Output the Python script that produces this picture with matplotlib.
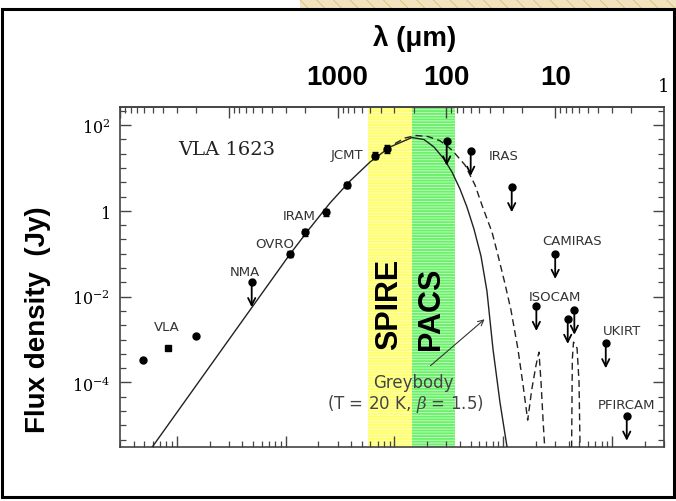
import numpy as np
import matplotlib.pyplot as plt
from matplotlib.patches import Rectangle
from matplotlib.ticker import FixedLocator, NullFormatter, LogLocator

plt.rcParams['mathtext.fontset'] = 'dejavuserif'
plt.rcParams['hatch.linewidth'] = 0.6

C_UM = 3e14     # speed of light (micron / s)

#### Detections with error bars (wavelength in micron, flux in Jy) ####
det_lam  = [2738, 1993, 1278, 815, 453, 349]
det_flux = [0.098, 0.315, 0.92, 3.99, 19.2, 27.6]
det_err  = [0.15, 0.2, 0.2, 0.2, 0.2, 0.25]      # fractional

#### VLA centimetre points ####
vla_lam  = [61850, 36450, 20030]
vla_flux = [3.4e-4, 6.2e-4, 1.22e-3]
vla_mark = ["o", "s", "o"]

#### Upper limits ####
ul_lam  = [6160, 99.4, 59.8, 25.1, 10.0, 14.9, 7.67, 6.67, 3.43, 2.2]
ul_flux = [0.0215, 43, 24.8, 3.52, 0.098, 6.0e-3, 3.0e-3, 4.9e-3, 8.1e-4, 1.66e-5]

#### Greybody model (solid) ####
grey_lam  = [65500, 18400, 6385, 2738, 1794, 1175, 769, 504, 330, 207, 160.6, 130,
             105.2, 88.8, 75.0, 64.7, 55.8, 48.1, 42.4, 37.3, 32.2, 27.7, 26.0]
grey_flux = [1.24e-6, 1.13e-4, 4.85e-3, 0.098, 0.396, 1.52, 4.94, 13.7, 30.7, 51.1, 45.9, 30.7,
             16.1, 8.01, 3.22, 1.22, 0.376, 0.0881, 0.01345, 5.97e-4, 3.47e-5, 3.10e-6, 9.5e-7]

#### Second model (dashed) ####
dash_lam  = [297, 240, 190, 147.6, 114.5, 88.8, 67.5, 54.6, 46.1, 38.1, 33.6, 28.9, 25.5, 22.0,
             19.8, 17.9, 16.4, 15.0, 14.1, 13.5, 12.9, 12.3, 9.4, 7.08, 6.96, 6.79, 6.30, 6.04,
             5.92, 5.79]
dash_flux = [37.0, 49.8, 56.9, 53.9, 43.0, 26.1, 11.7, 3.99, 1.16, 0.320, 0.0930, 0.0196, 4.85e-3,
             5.97e-4, 9.1e-5, 1.32e-5, 6.97e-5, 2.53e-4, 5.08e-4, 1.02e-4, 1.19e-5, 1.6e-6, 6.5e-8,
             1.6e-6, 3.49e-4, 8.7e-4, 6.3e-4, 1.02e-4, 4.05e-6, 9.5e-7]

#### Instrument bands (micron) ####
spire_lam = [525, 207]
pacs_lam  = [207, 83]

#### Instrument labels ####
inst_names = ["JCMT", "IRAM", "OVRO", "NMA", "VLA", "IRAS", "CAMIRAS", "ISOCAM", "UKIRT", "PFIRCAM"]
inst_lam   = [825, 2263, 3762, 7098, 37220, 30.0, 7.05, 10.0, 2.45, 2.2]
inst_flux  = [20.0, 0.767, 0.174, 0.0379, 2.02e-3, 19.2, 0.2, 9.9e-3, 1.6e-3, 3.1e-5]

y_ticks    = [1e-4, 1e-2, 1, 1e2]
y_labels   = [r"$10^{-4}$", r"$10^{-2}$", r"$1$", r"$10^{2}$"]
top_ticks  = [1e5, 1e4, 1e3, 1e2, 1e1]
top_labels = ["", "", "1000", "100", "10"]


#### wavelength <-> frequency (same function both ways) ####
def lam2nu(l):
    l = np.array(l, dtype=float)
    with np.errstate(divide="ignore", invalid="ignore"):
        return C_UM / l


fig = plt.figure(figsize=(6.76, 5.02), dpi=100)
ax = fig.add_axes([120/676, 1-448/502, 544/676, 340/502])

# bands
ax.axvspan(lam2nu(spire_lam[0]), lam2nu(spire_lam[1]), facecolor="#ffff6a",
           edgecolor="#ffffc8", hatch="------", lw=0, zorder=0)
ax.axvspan(lam2nu(pacs_lam[0]), lam2nu(pacs_lam[1]), facecolor="#6cf06c",
           edgecolor="#c8ffc8", hatch="------", lw=0, zorder=0)

# models
ax.plot(lam2nu(grey_lam), grey_flux, color="#222222", lw=1.0, zorder=3)
ax.plot(lam2nu(dash_lam), dash_flux, color="#222222", lw=1.0, ls=(0, (5, 3)), zorder=3)

# detections
f = np.array(det_flux); e = np.array(det_err)
ax.errorbar(lam2nu(det_lam), f, yerr=[f - f/(1+e), f*(1+e) - f], fmt="o", ms=5,
            color="black", capsize=2.5, elinewidth=1, zorder=5)

# VLA
for l, fl, m in zip(vla_lam, vla_flux, vla_mark):
    ax.plot(lam2nu(l), fl, m, ms=5 if m == "o" else 4.5, color="black", zorder=5)

# upper limits
for l, fl in zip(ul_lam, ul_flux):
    nu = lam2nu(l)
    ax.plot(nu, fl, "o", ms=5, color="black", zorder=5)
    ax.annotate("", xy=(nu, fl/3.8), xytext=(nu, fl),
                arrowprops=dict(arrowstyle="->", color="black", lw=1.3,
                                mutation_scale=13, shrinkA=0, shrinkB=0), zorder=5)

# instrument names
for n, l, fl in zip(inst_names, inst_lam, inst_flux):
    ax.text(lam2nu(l), fl, n, ha="center", va="center", fontsize=9.5, color="#333333")

ax.text(0.1066, 0.876, "VLA 1623", transform=ax.transAxes, ha="left", va="center",
        fontsize=14, family="DejaVu Serif", color="#222222")
ax.text(0.4945, 0.288, "SPIRE", transform=ax.transAxes, rotation=90, ha="center",
        va="bottom", fontsize=22, fontweight="bold", family="Liberation Sans")
ax.text(0.5717, 0.288, "PACS", transform=ax.transAxes, rotation=90, ha="center",
        va="bottom", fontsize=22, fontweight="bold", family="Liberation Sans")
ax.text(0.539, 0.190, "Greybody", transform=ax.transAxes, ha="center", va="center",
        fontsize=12, color="#444444")
ax.text(0.524, 0.129, r"(T = 20 K, $\beta$ = 1.5)", transform=ax.transAxes, ha="center",
        va="center", fontsize=12, color="#444444")
ax.annotate("", xy=(0.674, 0.381), xytext=(0.567, 0.234), xycoords="axes fraction",
            arrowprops=dict(arrowstyle="->", lw=0.8, color="#333333"))

# axes / ticks
ax.set_xscale("log"); ax.set_yscale("log")
ax.set_xlim(3e9, 3e14); ax.set_ylim(3.12e-6, 263)
ax.xaxis.set_major_locator(FixedLocator([1e10, 1e11, 1e12, 1e13, 1e14]))
ax.xaxis.set_minor_locator(LogLocator(base=10, subs=np.arange(2, 10)))
ax.xaxis.set_major_formatter(NullFormatter()); ax.xaxis.set_minor_formatter(NullFormatter())
ax.set_yticks(y_ticks, labels=y_labels)
ax.yaxis.set_minor_locator(FixedLocator(10.0**(np.arange(-18, 9)/3)))
ax.yaxis.set_minor_formatter(NullFormatter())
ax.tick_params(which="both", direction="in", top=False, right=True, color="#444444")
ax.tick_params(which="major", length=8, width=1)
ax.tick_params(which="minor", length=4.5, width=0.9)
ax.tick_params(axis="y", labelsize=11.5, pad=7)
for s in ax.spines.values():
    s.set_color("#444444"); s.set_linewidth(1.2)

sec = ax.secondary_xaxis("top", functions=(lam2nu, lam2nu))
sec.set_xticks(top_ticks, labels=top_labels)
sec.xaxis.set_minor_locator(LogLocator(base=10, subs=np.arange(2, 10)))
sec.xaxis.set_minor_formatter(NullFormatter())
sec.tick_params(which="both", direction="in", color="#444444")
sec.tick_params(which="major", length=8, width=1, pad=12, labelsize=20)
sec.tick_params(which="minor", length=4.5, width=0.9)
for lb in sec.get_xticklabels():
    lb.set_fontweight("bold"); lb.set_family("Liberation Sans")
sec.spines["top"].set_color("#444444"); sec.spines["top"].set_linewidth(1.2)

ax.text(1.0, 1.0626, "1", transform=ax.transAxes, ha="center", va="center",
        fontsize=13, family="DejaVu Serif")

fig.text(415/676, 1-38/502, "λ (μm)", ha="center", va="center", fontsize=20,
         fontweight="bold", family="Liberation Sans")
fig.text(38/676, 1-320/502, "Flux density  (Jy)", rotation=90, ha="center", va="center",
         fontsize=20, fontweight="bold", family="Liberation Sans")

# slide frame and strip at top
fig.add_artist(Rectangle((300/676, 1-9/502), 376/676, 9/502, transform=fig.transFigure,
                         facecolor="#f2e3bf", edgecolor="#d9bd7a", hatch="\\\\", lw=0))
fig.add_artist(Rectangle((2/676, 4/502), 672/676, 488/502, transform=fig.transFigure,
                         fill=False, lw=2.2, edgecolor="black"))

fig.savefig("out.png", dpi=100)
